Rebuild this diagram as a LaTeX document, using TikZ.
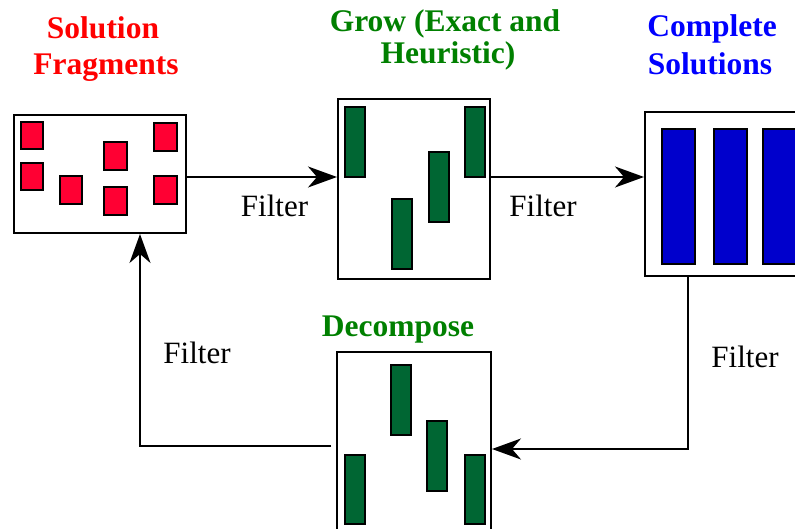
\documentclass[tikz,border=0pt]{standalone}
\usepackage{fontspec}
\setmainfont{Liberation Serif}
\usetikzlibrary{arrows.meta}
\definecolor{tred}{RGB}{255,0,0}
\definecolor{sqred}{RGB}{255,0,51}
\definecolor{tgreen}{RGB}{0,128,0}
\definecolor{bargreen}{RGB}{0,102,51}
\definecolor{tblue}{RGB}{0,0,255}
\definecolor{barblue}{RGB}{0,0,204}
\tikzset{
  box/.style={draw=black, line width=2pt, fill=white, inner sep=0pt},
  redsq/.style={draw=black, line width=1.5pt, fill=sqred},
  gbar/.style={draw=black, line width=1.5pt, fill=bargreen},
  bbar/.style={draw=black, line width=1.5pt, fill=barblue},
  arr/.style={line width=2pt, -{Stealth[length=29pt, width=21pt, inset=9pt]}},
  ttl/.style={font=\fontsize{31.5}{36}\selectfont\bfseries, anchor=base, inner sep=0pt},
  lbl/.style={font=\fontsize{31}{36}\selectfont, anchor=base, inner sep=0pt, text=black},
}
\begin{document}
\begin{tikzpicture}[x=1pt, y=-1pt]
\useasboundingbox (0,0) rectangle (795,529);
\clip (0,0) rectangle (795,529);
\fill[white] (0,0) rectangle (795,529);

% titles
\node[ttl, text=tred] (t1a) at (103,39) {Solution};
\node[ttl, text=tred] (t1b) at (106,75) {Fragments};
\node[ttl, text=tgreen] (t2a) at (445,32) {Grow (Exact and};
\node[ttl, text=tgreen] (t2b) at (448,64) {Heuristic)};
\node[ttl, text=tblue] (t3a) at (712,37) {Complete};
\node[ttl, text=tblue] (t3b) at (710,75) {Solutions};
\node[ttl, text=tgreen] (t4) at (398,337) {Decompose};

% boxes
\node[box, minimum width=172pt, minimum height=118pt] (frag) at (100,174) {};
\node[box, minimum width=152pt, minimum height=180pt] (grow) at (414,189) {};
\node[box, minimum width=185pt, minimum height=164pt] (comp) at (737.5,194) {};
\node[box, minimum width=154pt, minimum height=198pt] (dec) at (414,451) {};

% red squares
\draw[redsq] (21,122) rectangle (43,149);
\draw[redsq] (154,123) rectangle (177,151);
\draw[redsq] (104,142) rectangle (127,170);
\draw[redsq] (21,163) rectangle (43,190);
\draw[redsq] (60,176) rectangle (82,204);
\draw[redsq] (104,187) rectangle (127,215);
\draw[redsq] (154,176) rectangle (177,204);

% grow bars
\draw[gbar] (345,107) rectangle (365,177);
\draw[gbar] (465,107) rectangle (485,177);
\draw[gbar] (429,152) rectangle (449,222);
\draw[gbar] (392,199) rectangle (412,269);

% complete bars
\draw[bbar] (662,129) rectangle (695,264);
\draw[bbar] (714,129) rectangle (747,264);
\draw[bbar] (763,129) rectangle (796,264);

% decompose bars
\draw[gbar] (391,365) rectangle (411,435);
\draw[gbar] (427,421) rectangle (447,491);
\draw[gbar] (345,455) rectangle (365,524);
\draw[gbar] (465,455) rectangle (485,524);

% connectors
\coordinate (c1) at (688,449);
\coordinate (c2) at (140,446);
\draw[arr] ([yshift=-3pt]frag.east) -- ([yshift=-3pt]frag.east -| grow.west);
\draw[arr] ([yshift=12pt]grow.east) -- ([yshift=12pt]grow.east -| comp.west);
\draw[arr] (comp.south -| c1) -- (c1) -- (c1 -| dec.east);
\draw[arr] ([xshift=-5pt]c2 -| dec.west) -- (c2) -- (c2 |- frag.south);

% labels
\node[lbl] (f1) at (274.5,217) {Filter};
\node[lbl] (f2) at (543,217) {Filter};
\node[lbl] (f3) at (197,363) {Filter};
\node[lbl] (f4) at (745,367) {Filter};
\end{tikzpicture}
\end{document}
